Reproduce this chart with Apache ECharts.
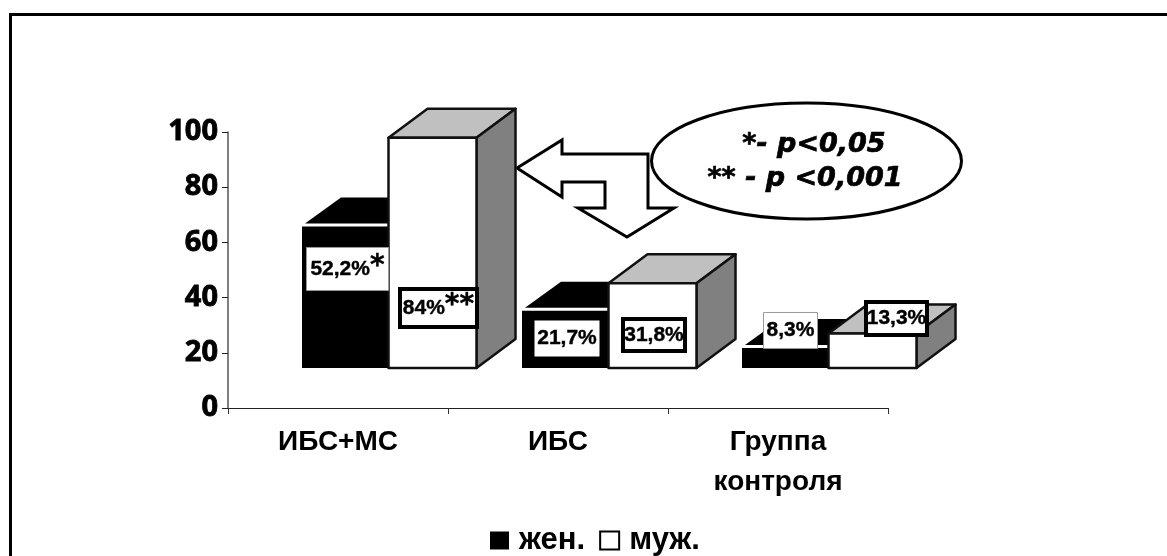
<!DOCTYPE html>
<html>
<head>
<meta charset="utf-8">
<style>
	html, body { margin: 0; padding: 0; background: #fff; }
	#chart { width: 1167px; height: 556px; }
</style>
<script src="https://cdn.jsdelivr.net/npm/echarts@6/dist/echarts.min.js"></script>
</head>
<body>
<div id="chart"></div>
<script>
	const categories = ["ИБС+МС", "ИБС", "Группа\nконтроля"];
	const tickLabels = [0, 20, 40, 60, 80, 100];
	const seriesNames = ["жен.", "муж."];
	// bar tops, the bars stand on a raised floor
	const womenValues = [65.8, 35.2, 21.7];
	const menValues = [97.9, 45.2, 27.0];
	const floorValue = 14.5;
	const womenLabels = ["52,2%{star|*}", "21,7%", "8,3%"];
	const menLabels = ["84%{star|**}", "31,8%", "13,3%"];
	const noteLines = ["*- p<0,05", "** - p <0,001"];

	const depthX = 39;
	const depthY = 29;
	const fontArial = "'Liberation Sans', Arial, sans-serif";
	const fontVerdana = "'DejaVu Sans', Verdana, sans-serif";

	// label boxes, px relative to the category centre and the floor line
	const womenBoxes = [
		{ dx: -32, dy: -121, w: 83, h: 44, border: "thin" },
		{ dx: -24, dy: -48, w: 66, h: 37, border: "none" },
		{ dx: -15, dy: -56, w: 55, h: 37, border: "thin" }
	];
	const menBoxes = [
		{ dx: 60, dy: -81, w: 81, h: 42, border: "thick" },
		{ dx: 63, dy: -51, w: 66, h: 36, border: "thick" },
		{ dx: 86, dy: -68, w: 65, h: 37, border: "thick" }
	];

	const renderWomen = (params, api) => {
		const top = api.coord([api.value(0), api.value(1)]);
		const floor = api.coord([api.value(0), floorValue]);
		const x = top[0] - 36;
		const w = 86;
		return {
			type: "group",
			children: [
				{
					type: "polygon",
					shape: {
						points: [
							[x + 3, top[1] - 3],
							[x + depthX, top[1] - depthY],
							[x + w + depthX, top[1] - depthY],
							[x + w, top[1] - 3]
						]
					},
					style: { fill: "#000" }
				},
				{
					type: "rect",
					shape: { x, y: top[1], width: w, height: floor[1] - top[1] },
					style: { fill: "#000" }
				}
			]
		};
	};

	const renderMen = (params, api) => {
		const top = api.coord([api.value(0), api.value(1)]);
		const floor = api.coord([api.value(0), floorValue]);
		const x = top[0] + 50.5;
		const w = 88;
		const edge = { stroke: "#111", lineWidth: 2.5, lineJoin: "round" };
		return {
			type: "group",
			children: [
				{
					type: "polygon",
					shape: {
						points: [
							[x, top[1]],
							[x + depthX, top[1] - depthY],
							[x + w + depthX, top[1] - depthY],
							[x + w, top[1]]
						]
					},
					style: { fill: "#c0c0c0", ...edge }
				},
				{
					type: "polygon",
					shape: {
						points: [
							[x + w, top[1]],
							[x + w + depthX, top[1] - depthY],
							[x + w + depthX, floor[1] - depthY],
							[x + w, floor[1]]
						]
					},
					style: { fill: "#808080", ...edge }
				},
				{
					type: "rect",
					shape: { x, y: top[1], width: w, height: floor[1] - top[1] },
					style: { fill: "#fff", ...edge }
				}
			]
		};
	};

	const makeLabelRenderer = (boxes, labels) => (params, api) => {
		const box = boxes[params.dataIndex];
		const floor = api.coord([api.value(0), floorValue]);
		const x = floor[0] + box.dx;
		const y = floor[1] + box.dy;
		const inset = box.border === "thick" ? 2 : 0.5;
		const boxStyle = {
			thick: { fill: "#fff", stroke: "#000", lineWidth: 4 },
			thin: { fill: "#fff", stroke: "#999", lineWidth: 1 },
			none: { fill: "#fff" }
		}[box.border];
		return {
			type: "group",
			children: [
				{
					type: "rect",
					shape: { x: x + inset, y: y + inset, width: box.w - inset * 2, height: box.h - inset * 2 },
					style: boxStyle
				},
				{
					type: "text",
					x: x + box.w / 2,
					y: y + box.h / 2,
					style: {
						text: labels[params.dataIndex],
						align: "center",
						verticalAlign: "middle",
						fill: "#000",
						stroke: "#000",
						lineWidth: 0.4,
						font: `bold 21px ${fontArial}`,
						rich: {
							star: { font: `bold 28px ${fontVerdana}`, fill: "#000", padding: [0, 0, 4, 0] }
						}
					}
				}
			]
		};
	};

	const rows = values => values.map((v, i) => [i, v]);

	const chart = echarts.init(document.getElementById("chart"), null, { renderer: "canvas" });
	chart.setOption({
		animation: false,
		backgroundColor: "#fff",
		tooltip: { show: false },
		grid: { left: 228, right: 279, top: 132, bottom: 148 },
		legend: {
			left: 485,
			top: 520,
			itemWidth: 19,
			itemHeight: 18,
			itemGap: 14,
			icon: "rect",
			textStyle: { fontFamily: fontArial, fontWeight: "bold", fontSize: 31, color: "#000", padding: [0, 0, 0, 5] },
			data: [
				{ name: seriesNames[0], itemStyle: { color: "#000" } },
				{ name: seriesNames[1], itemStyle: { color: "#fff", borderColor: "#000", borderWidth: 2 } }
			]
		},
		xAxis: {
			type: "category",
			data: categories,
			axisLine: { lineStyle: { color: "#222", width: 1 } },
			axisTick: { show: true, length: 6, lineStyle: { color: "#333", width: 1 } },
			axisLabel: {
				color: "#000",
				fontFamily: fontArial,
				fontWeight: "bold",
				fontSize: 28,
				lineHeight: 40,
				margin: 14,
				interval: 0
			}
		},
		yAxis: {
			type: "value",
			min: tickLabels[0],
			max: tickLabels[tickLabels.length - 1],
			interval: 20,
			splitLine: { show: false },
			axisLine: { show: true, lineStyle: { color: "#555", width: 1.5 } },
			axisTick: { show: true, length: 6, lineStyle: { color: "#222", width: 1 } },
			axisLabel: {
				color: "#000",
				fontFamily: "'Noto Sans', sans-serif",
				fontWeight: "bold",
				fontSize: 29,
				textBorderColor: "#000",
				textBorderWidth: 0.8,
				padding: [4, 0, 0, 0],
				margin: 10
			}
		},
		graphic: [
			{
				type: "polyline",
				shape: { points: [[10.5, 556], [10.5, 14.5], [1167, 14.5]] },
				style: { fill: null, stroke: "#000", lineWidth: 3 }
			},
			{
				type: "polygon",
				shape: {
					points: [
						[517, 168], [562, 140], [562, 154], [648, 154], [648, 208], [674, 208],
						[627, 237], [578, 208], [605, 208], [605, 182], [562, 182], [562, 197]
					]
				},
				style: { fill: "#fff", stroke: "#000", lineWidth: 3 }
			},
			{
				type: "ellipse",
				shape: { cx: 806.5, cy: 161, rx: 155, ry: 58 },
				style: { fill: "#fff", stroke: "#000", lineWidth: 3 }
			},
			{
				type: "text",
				x: 814,
				y: 145,
				style: {
					text: noteLines[0],
					align: "center",
					verticalAlign: "middle",
					fill: "#000",
					stroke: "#000",
					lineWidth: 0.7,
					font: `italic bold 27px ${fontVerdana}`
				}
			},
			{
				type: "text",
				x: 805,
				y: 179,
				style: {
					text: noteLines[1],
					align: "center",
					verticalAlign: "middle",
					fill: "#000",
					stroke: "#000",
					lineWidth: 0.7,
					font: `italic bold 27px ${fontVerdana}`
				}
			}
		],
		series: [
			{ name: seriesNames[0], type: "custom", coordinateSystem: "cartesian2d", data: rows(womenValues), renderItem: renderWomen, itemStyle: { color: "#000" } },
			{ name: seriesNames[1], type: "custom", coordinateSystem: "cartesian2d", data: rows(menValues), renderItem: renderMen, itemStyle: { color: "#fff" } },
			{ type: "custom", coordinateSystem: "cartesian2d", data: rows(womenValues), renderItem: makeLabelRenderer(womenBoxes, womenLabels), z: 5 },
			{ type: "custom", coordinateSystem: "cartesian2d", data: rows(menValues), renderItem: makeLabelRenderer(menBoxes, menLabels), z: 5 }
		]
	});
</script>
</body>
</html>
